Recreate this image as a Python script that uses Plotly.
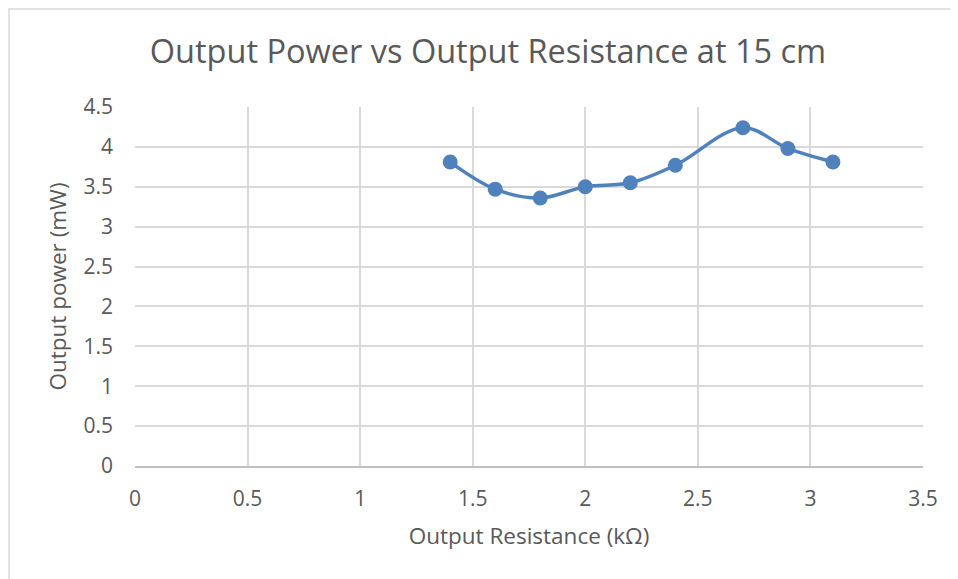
import plotly.graph_objects as go

resistance_kohm = [1.4, 1.6, 1.8, 2.0, 2.2, 2.4, 2.7, 2.9, 3.1]
power_mw = [3.81, 3.47, 3.36, 3.50, 3.55, 3.77, 4.24, 3.98, 3.81]

x_ticks = [0, 0.5, 1, 1.5, 2, 2.5, 3, 3.5]
x_tick_text = ["0", "0.5", "1", "1.5", "2", "2.5", "3", "3.5"]
y_ticks = [0, 0.5, 1, 1.5, 2, 2.5, 3, 3.5, 4, 4.5]
y_tick_text = ["0", "0.5", "1", "1.5", "2", "2.5", "3", "3.5", "4", "4.5"]

blue = "#4f81bd"
grey_text = "#595959"
font_family = "'Open Sans', sans-serif"

# the page puts the figure 8px in from the top-left corner, margins allow for that
fig = go.Figure()
fig.add_trace(go.Scatter(
    x=resistance_kohm,
    y=power_mw,
    mode="lines+markers",
    line=dict(color=blue, width=3.5, shape="spline", smoothing=1.0),
    marker=dict(color=blue, size=15),
    showlegend=False,
))

fig.update_layout(
    width=958,
    height=579,
    paper_bgcolor="white",
    plot_bgcolor="white",
    margin=dict(l=127, r=43, t=99, b=121),
    font=dict(family=font_family, color=grey_text, size=21),
    title=dict(
        text="Output Power vs Output Resistance at 15 cm",
        x=480 / 958, xref="container", xanchor="center",
        y=1 - 44 / 579, yanchor="middle",
        font=dict(size=32.5, color=grey_text, family=font_family),
    ),
    xaxis=dict(
        range=[0, 3.5],
        tickvals=x_ticks,
        ticktext=x_tick_text,
        showgrid=True,
        gridcolor="#d9d9d9",
        gridwidth=1.5,
        zeroline=False,
        showline=True,
        linecolor="#bfbfbf",
        linewidth=1.5,
        ticks="",
        ticklabelstandoff=13,
        title=dict(text="Output Resistance (kΩ)", font=dict(size=22.5), standoff=17),
    ),
    yaxis=dict(
        range=[0, 4.5],
        tickvals=y_ticks,
        ticktext=y_tick_text,
        showgrid=True,
        gridcolor="#d9d9d9",
        gridwidth=1.5,
        zeroline=False,
        showline=False,
        ticks="",
        ticklabelstandoff=21,
        title=dict(text="Output power (mW)", font=dict(size=22.5), standoff=10),
    ),
    shapes=[dict(
        type="rect", xref="paper", yref="paper",
        x0=(1 - 127) / 788, x1=(990 - 127) / 788,
        y0=(458 - 600) / 359, y1=(458 - 1) / 359,
        line=dict(color="#d9d9d9", width=1.5),
        fillcolor="rgba(0,0,0,0)",
        layer="below",
    )],
)

fig.write_html("out.html")
